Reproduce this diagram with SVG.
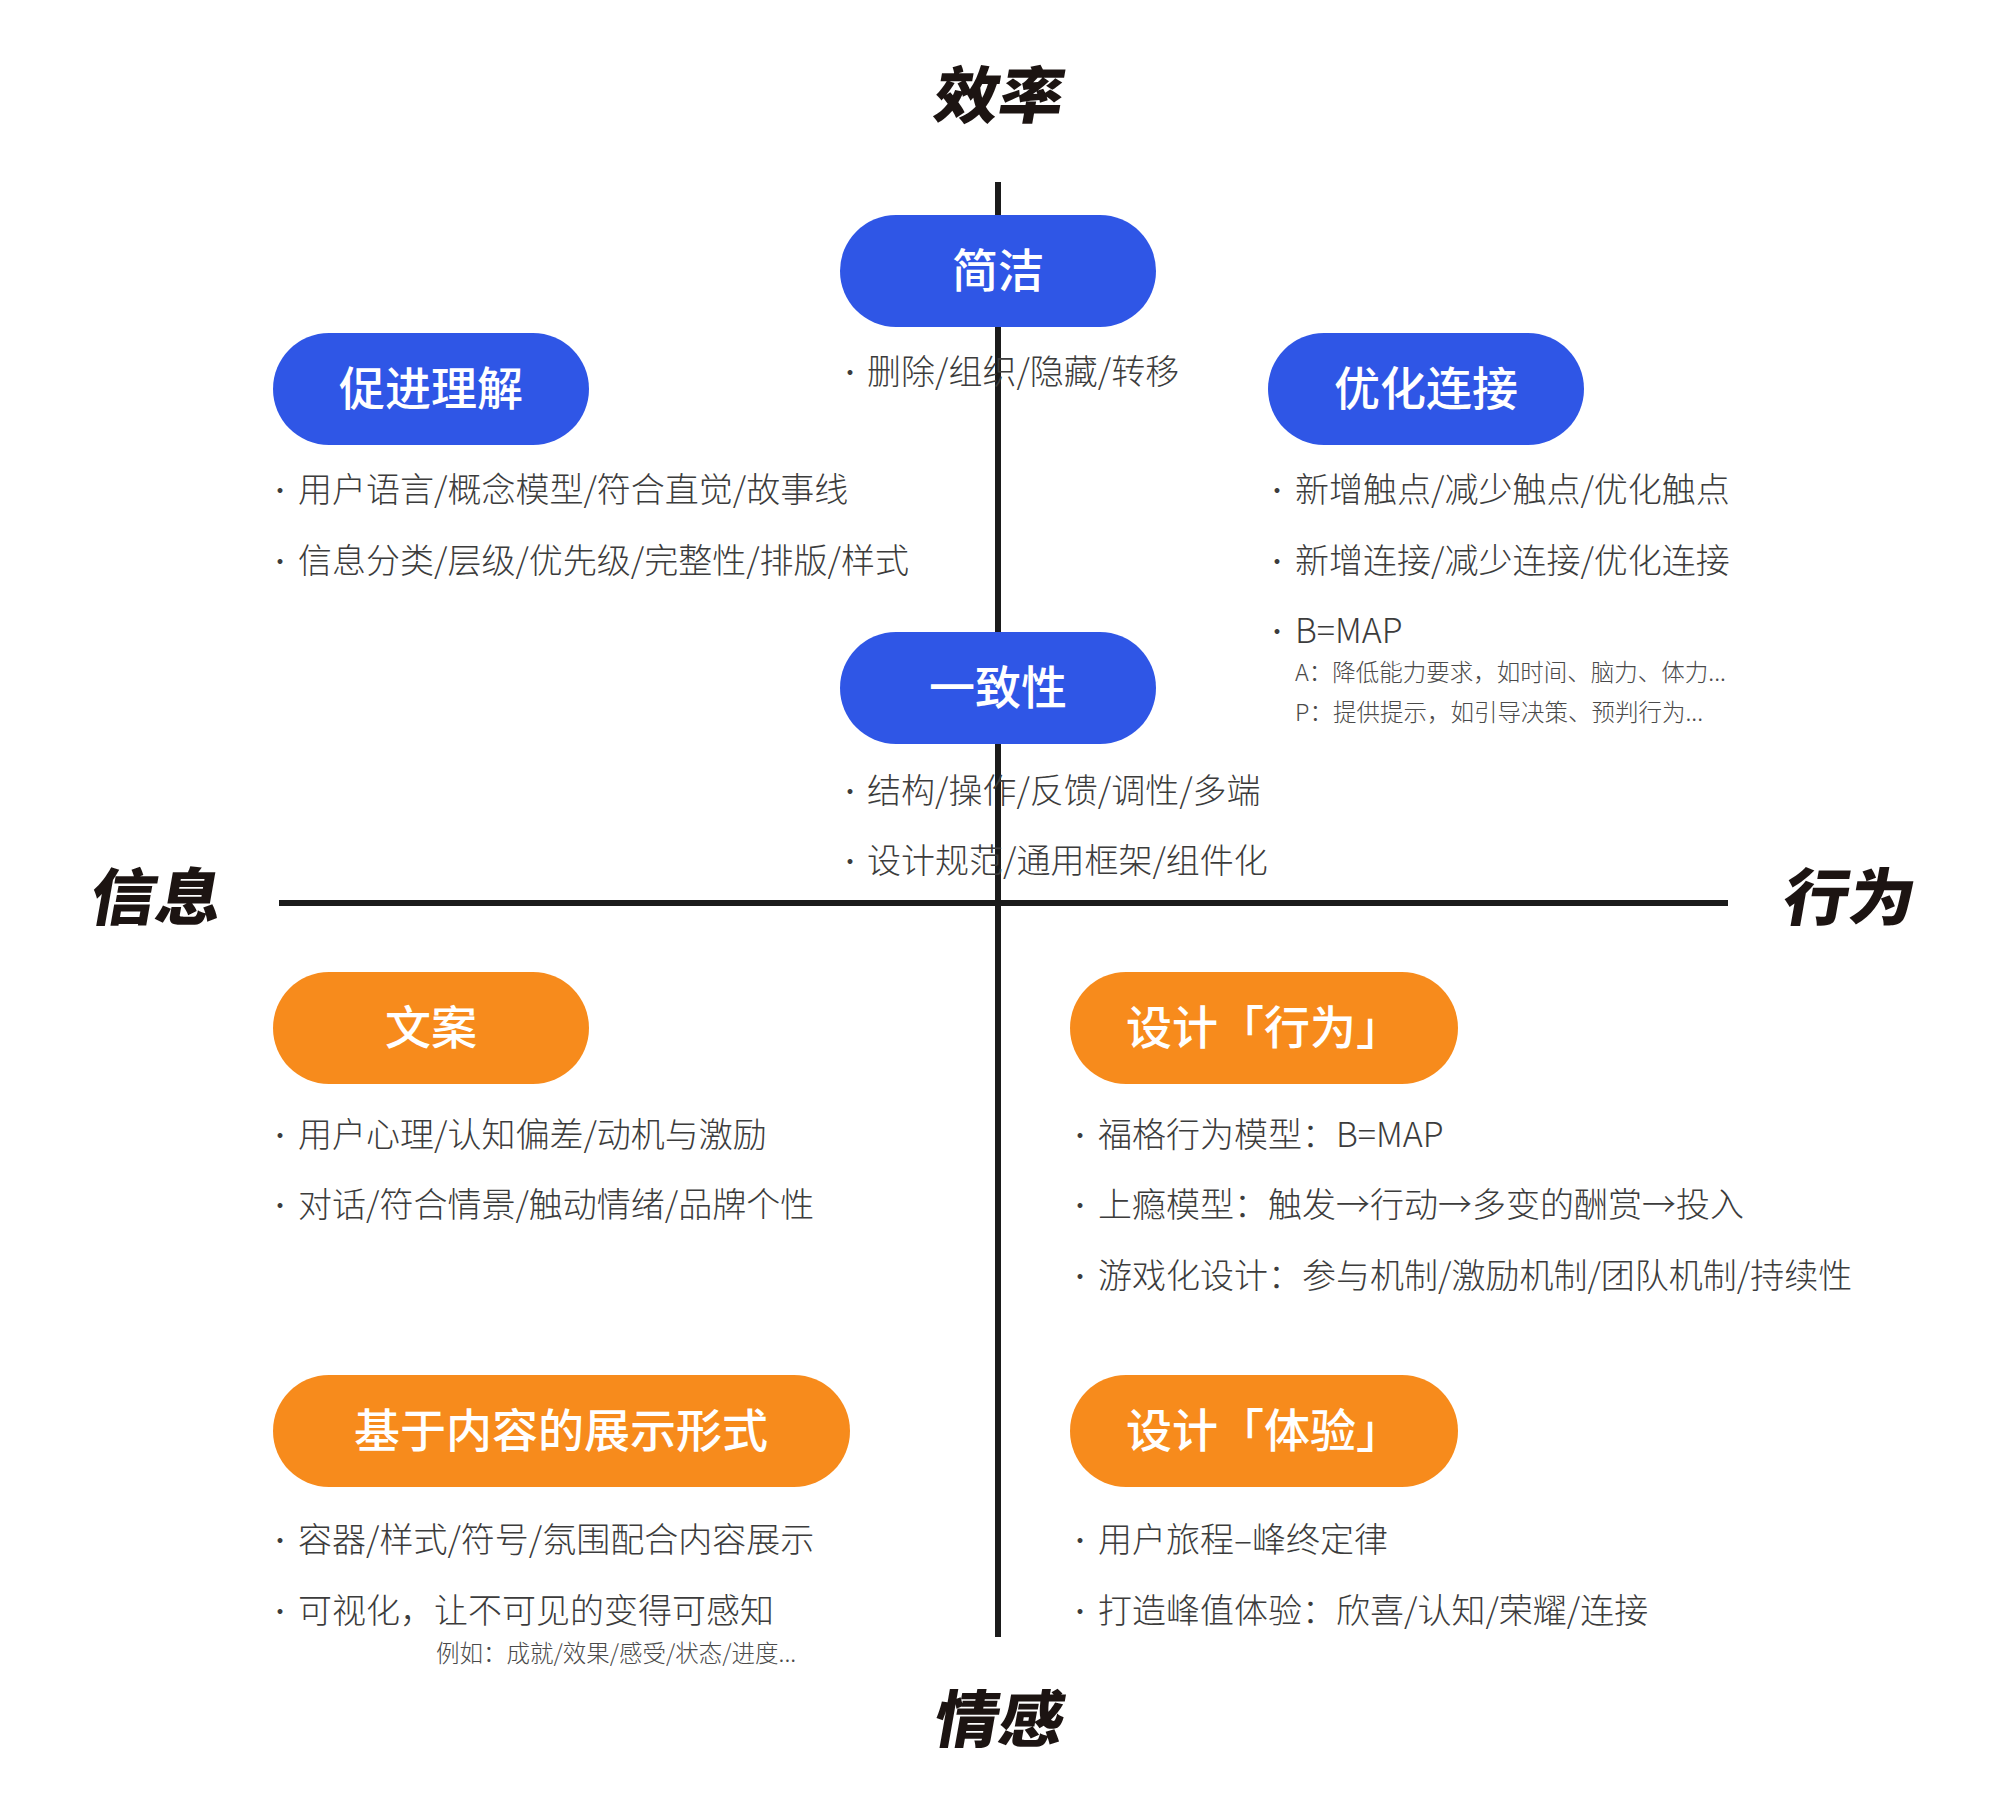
<svg xmlns="http://www.w3.org/2000/svg" width="2000" height="1805" viewBox="0 0 2000 1805">
<style>
.bg{fill:#ffffff}
.axis{stroke:#1b1b1b;stroke-width:6;fill:none}
.title{font-family:"Noto Sans CJK SC","Noto Sans",sans-serif;font-weight:900;font-size:62px;fill:#1c1412;text-anchor:middle}
.blue{fill:#2f56e6}
.orange{fill:#f78b1c}
.pt{font-family:"Noto Sans CJK SC","Noto Sans",sans-serif;font-weight:500;font-size:46px;fill:#ffffff;text-anchor:middle}
.t{font-family:"Noto Sans CJK SC","Noto Sans",sans-serif;font-weight:300;font-size:34px;fill:#3c3c3c}
.b{font-family:"Noto Sans CJK SC","Noto Sans",sans-serif;font-weight:300;font-size:26px;fill:#3c3c3c}
.s{font-family:"Noto Sans CJK SC","Noto Sans",sans-serif;font-weight:300;font-size:23.5px;fill:#4a4a4a}
</style>
<rect class="bg" x="0" y="0" width="2000" height="1805"/>
<g id="connectors">
<line class="axis" x1="998" y1="182" x2="998" y2="1637"/>
<line class="axis" x1="279" y1="903" x2="1728" y2="903"/>
</g>
<g id="axis-titles">
<text class="title" transform="translate(996,118) skewX(-10) scale(1.04,1)">效率</text>
<text class="title" transform="translate(153,920) skewX(-10) scale(1.06,1)">信息</text>
<text class="title" transform="translate(1846,920) skewX(-10) scale(1.06,1)">行为</text>
<text class="title" transform="translate(996,1742) skewX(-10) scale(1.04,1)">情感</text>
</g>
<g id="node-jianjie">
<rect class="blue" x="840" y="215" width="316" height="112" rx="56"/>
<text class="pt" x="998" y="287">简洁</text>
<text class="b" x="837" y="382">·</text><text class="t" x="867" y="384">删除/组织/隐藏/转移</text>
</g>
<g id="node-cujin">
<rect class="blue" x="273" y="333" width="316" height="112" rx="56"/>
<text class="pt" x="431" y="405">促进理解</text>
<text class="b" x="267" y="500">·</text><text class="t" x="298" y="502">用户语言/概念模型/符合直觉/故事线</text>
<text class="b" x="267" y="571">·</text><text class="t" x="298" y="573">信息分类/层级/优先级/完整性/排版/样式</text>
</g>
<g id="node-youhua">
<rect class="blue" x="1268" y="333" width="316" height="112" rx="56"/>
<text class="pt" x="1426" y="405">优化连接</text>
<text class="b" x="1264" y="500">·</text><text class="t" x="1295" y="502">新增触点/减少触点/优化触点</text>
<text class="b" x="1264" y="571">·</text><text class="t" x="1295" y="573">新增连接/减少连接/优化连接</text>
<text class="b" x="1264" y="641">·</text><text class="t" x="1295" y="643">B=MAP</text>
<text class="s" x="1295" y="681">A：降低能力要求，如时间、脑力、体力...</text>
<text class="s" x="1295" y="721">P：提供提示，如引导决策、预判行为...</text>
</g>
<g id="node-yizhi">
<rect class="blue" x="840" y="632" width="316" height="112" rx="56"/>
<text class="pt" x="998" y="704">一致性</text>
<text class="b" x="837" y="801">·</text><text class="t" x="867" y="803">结构/操作/反馈/调性/多端</text>
<text class="b" x="837" y="871">·</text><text class="t" x="867" y="873">设计规范/通用框架/组件化</text>
</g>
<g id="node-wenan">
<rect class="orange" x="273" y="972" width="316" height="112" rx="56"/>
<text class="pt" x="431" y="1044">文案</text>
<text class="b" x="267" y="1145">·</text><text class="t" x="298" y="1147">用户心理/认知偏差/动机与激励</text>
<text class="b" x="267" y="1215">·</text><text class="t" x="298" y="1217">对话/符合情景/触动情绪/品牌个性</text>
</g>
<g id="node-xingwei">
<rect class="orange" x="1070" y="972" width="388" height="112" rx="56"/>
<text class="pt" x="1264" y="1044">设计「行为」</text>
<text class="b" x="1067" y="1145">·</text><text class="t" x="1098" y="1147">福格行为模型：B=MAP</text>
<text class="b" x="1067" y="1215">·</text><text class="t" x="1098" y="1217">上瘾模型：触发→行动→多变的酬赏→投入</text>
<text class="b" x="1067" y="1286">·</text><text class="t" x="1098" y="1288">游戏化设计：参与机制/激励机制/团队机制/持续性</text>
</g>
<g id="node-zhanshi">
<rect class="orange" x="273" y="1375" width="577" height="112" rx="56"/>
<text class="pt" x="561" y="1447">基于内容的展示形式</text>
<text class="b" x="267" y="1550">·</text><text class="t" x="298" y="1552">容器/样式/符号/氛围配合内容展示</text>
<text class="b" x="267" y="1621">·</text><text class="t" x="298" y="1623">可视化，让不可见的变得可感知</text>
<text class="s" x="436" y="1662">例如：成就/效果/感受/状态/进度...</text>
</g>
<g id="node-tiyan">
<rect class="orange" x="1070" y="1375" width="388" height="112" rx="56"/>
<text class="pt" x="1264" y="1447">设计「体验」</text>
<text class="b" x="1067" y="1550">·</text><text class="t" x="1098" y="1552">用户旅程–峰终定律</text>
<text class="b" x="1067" y="1621">·</text><text class="t" x="1098" y="1623">打造峰值体验：欣喜/认知/荣耀/连接</text>
</g>
</svg>
